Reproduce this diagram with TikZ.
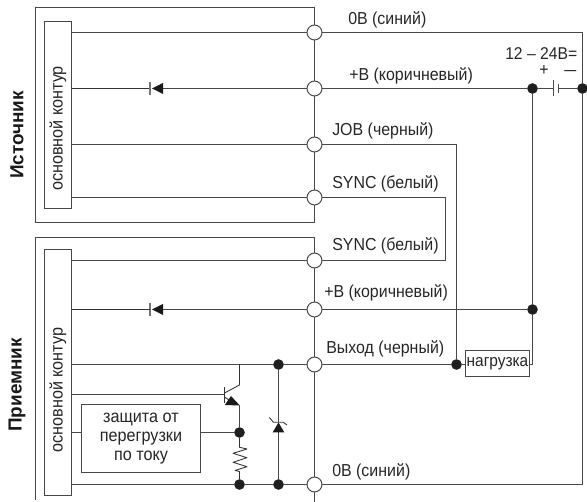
\documentclass[tikz,border=0pt]{standalone}
\usepackage{fontspec}
\setmainfont{Liberation Sans}
\newfontfamily\narrowf[FakeStretch=0.92]{Liberation Sans}
\begin{document}
\begin{tikzpicture}[x=0.75pt,y=-0.75pt,
  wire/.style={draw=black!72,line width=0.8pt},
  thin wire/.style={draw=black!80,line width=0.65pt},
  term/.style={circle,draw=black!72,line width=0.75pt,fill=white,minimum size=11.2pt,inner sep=0pt},
  jdot/.style={circle,fill=black!88,minimum size=8pt,inner sep=0pt},
  lbl/.style={font=\narrowf\fontsize{13pt}{14pt}\selectfont,text=black!85,inner sep=0pt,anchor=base west},
  blockbox/.style={draw=black!72,line width=0.8pt,fill=white,inner sep=0pt,outer sep=0pt,font=\narrowf\fontsize{13.2pt}{14.2pt}\selectfont,text=black!85,align=center},
  sidelbl/.style={font=\bfseries\fontsize{14.2pt}{16pt}\selectfont,rotate=90,inner sep=0pt,text=black!90},
  blocklbl/.style={font=\narrowf\fontsize{13.2pt}{14pt}\selectfont,text=black!85,rotate=90,inner sep=0pt},
  tri/.style={fill=black!90,draw=none}]
\useasboundingbox (0,0) rectangle (587,502);
% terminals
\node[term] (a1) at (314.5,32.5) {};
\node[term] (a2) at (314.5,88.5) {};
\node[term] (a3) at (314.5,144.5) {};
\node[term] (a4) at (314.5,197.5) {};
\node[term] (b1) at (314.5,260.5) {};
\node[term] (b2) at (314.5,309.5) {};
\node[term] (b3) at (314.5,364.5) {};
\node[term] (b4) at (314.5,484.5) {};
% blocks
\node[blockbox,minimum width=20.25pt,minimum height=140.25pt] (srcblock) at (58,115) {};
\node[blocklbl] (srctxt) at (58,128.5) {основной контур};
\node[blockbox,minimum width=20.25pt,minimum height=184.5pt] (rcvblock) at (58,372.5) {};
\node[blocklbl] (rcvtxt) at (58,390) {основной контур};
\node[blockbox,minimum width=89.25pt,minimum height=51pt] (prot) at (141,438.5) {защита от\\перегрузки\\по току};
\node[blockbox,minimum width=48pt,minimum height=19.5pt,font=\narrowf\fontsize{12.6pt}{14pt}\selectfont] (load) at (497.5,363.5) {нагрузка};
% outer frames
\coordinate (ftl) at (35.5,7.5);
\coordinate (ftr) at (314.5,7.5);
\coordinate (fbl) at (35.5,222.5);
\coordinate (fbr) at (314.5,222.5);
\coordinate (gtl) at (35.5,237.5);
\coordinate (gtr) at (314.5,237.5);
\coordinate (gbl) at (35.5,500);
\coordinate (gbr) at (314.5,502);
\draw[wire] (a1.north) -- (ftr) -- (ftl) -- (fbl) -- (fbr) -- (a4.south);
\draw[wire] (a1.south) -- (a2.north) (a2.south) -- (a3.north) (a3.south) -- (a4.north);
\draw[wire] (b1.north) -- (gtr) -- (gtl) -- (gbl);
\draw[wire] (b1.south) -- (b2.north) (b2.south) -- (b3.north) (b3.south) -- (b4.north) (b4.south) -- (gbr);
% junctions
\node[jdot] (p1) at (532.5,88.5) {};
\node[jdot] (m1) at (582.5,88.5) {};
\node[jdot] (p2) at (532.5,309.5) {};
\node[jdot] (jj) at (456.5,364.5) {};
\node[jdot] (zt) at (278.5,364.5) {};
\node[jdot] (zb) at (278.5,484.5) {};
\node[jdot] (ej) at (239.5,432.5) {};
\node[jdot] (rb) at (239.5,484.5) {};
% source wires
\draw[wire] (a1.east) -- (582.5,32.5) coordinate (c0) -- (m1.north);
\draw[wire] (m1.south) -- (582.5,484.5) coordinate (c9) -- (b4.east);
\draw[wire] (srcblock.east |- a1) -- (a1.west);
\draw[wire] (a2.west) -- (163,88.5);
\draw[thin wire] (150,88.5) -- (srcblock.east |- a2);
\fill[tri] (163,83) -- (163,94) -- (152,88.5) -- cycle;
\draw[draw=black!55,line width=0.8pt] (150,82) -- (150,95);
\draw[wire] (srcblock.east |- a3) -- (a3.west);
\draw[wire] (srcblock.east |- a4) -- (a4.west);
\draw[wire] (a2.east) -- (p1.west);
\draw[wire] (p1.east) -- (553.5,88.5);
\draw[wire] (558.5,88.5) -- (m1.west);
\draw[draw=black!70,line width=0.8pt] (553.5,80.5) -- (553.5,96.5);
\draw[draw=black!70,line width=0.8pt] (558.5,84) -- (558.5,93);
\draw[wire] (p1.south) -- (p2.north);
\draw[wire] (p2.south) -- (532.5,364.5) coordinate (lr) -- (load.east |- lr);
\draw[wire] (a3.east) -- (456.5,144.5) coordinate (jt) -- (jj.north);
\draw[wire] (a4.east) -- (445.5,197.5) coordinate (s1) -- (445.5,260.5) coordinate (s2) -- (b1.east);
% receiver wires
\draw[wire] (rcvblock.east |- b1) -- (b1.west);
\draw[wire] (b2.east) -- (p2.west);
\draw[wire] (b2.west) -- (163,309.5);
\fill[tri] (163,304) -- (163,315) -- (152,309.5) -- cycle;
\draw[draw=black!55,line width=0.8pt] (150,303) -- (150,316);
\draw[thin wire] (150,309.5) -- (rcvblock.east |- b2);
\draw[wire] (b3.east) -- (jj.west);
\draw[wire] (jj.east) -- (load.west |- jj);
\draw[wire] (b3.west) -- (zt.east);
\draw[wire] (zt.west) -- (rcvblock.east |- zt);
\draw[wire] (b4.west) -- (zb.east);
\draw[wire] (zb.west) -- (rb.east);
\draw[wire] (rb.west) -- (rcvblock.east |- rb);
% transistor
\draw[wire] (rcvblock.east |- 0,394.5) -- (224.5,394.5);
\draw[thin wire] (224.5,387) -- (224.5,403);
\draw[thin wire] (239.5,364.5) -- (239.5,385) -- (224.5,393);
\draw[thin wire] (224.5,397) -- (232,402);
\fill[tri] (239.8,405.5) -- (224.8,405) -- (231,396) -- cycle;
\draw[wire] (239.5,405) -- (ej.north);
% protection
\draw[wire] (rcvblock.east |- ej) -- (prot.west |- ej);
\draw[wire] (prot.east |- ej) -- (ej.west);
% resistor
\draw[thin wire,line join=round] (ej.south) -- (239.5,447.3) -- (247,449) -- (233,453.3) -- (247,457.7) -- (233,462.3) -- (247,466.7) -- (235,470.5) -- (239.5,471.5) -- (rb.north);
% zener
\draw[wire] (zt.south) -- (278.5,422.5);
\draw[wire] (278.5,432) -- (zb.north);
\fill[tri] (278.5,422.5) -- (284.4,432.5) -- (272.6,432.5) -- cycle;
\draw[thin wire] (269.3,417.5) -- (273.5,422.3) -- (283.3,422.3) -- (287,425);
% labels
\node[lbl] (t1) at (348,24.5) {0В (синий)};
\node[lbl] (t2) at (349,81) {+В (коричневый)};
\node[lbl,font=\narrowf\fontsize{12.8pt}{14pt}\selectfont] (t3) at (505,59.5) {12 – 24В=};
\node[lbl] (t4) at (539,75.5) {+};
\node[lbl] (t5) at (564,76) {\scalebox{1.35}[1]{–}};
\node[lbl] (t6) at (332,135.5) {JOB (черный)};
\node[lbl] (t7) at (332,188.5) {SYNC (белый)};
\node[lbl] (t8) at (332,251) {SYNC (белый)};
\node[lbl] (t9) at (324,298) {+В (коричневый)};
\node[lbl] (t10) at (326,354) {Выход (черный)};
\node[lbl] (t11) at (332,477) {0В (синий)};
\node[sidelbl] (src) at (17,135) {Источник};
\node[sidelbl] (rcv) at (17,385) {Приемник};
\end{tikzpicture}
\end{document}
